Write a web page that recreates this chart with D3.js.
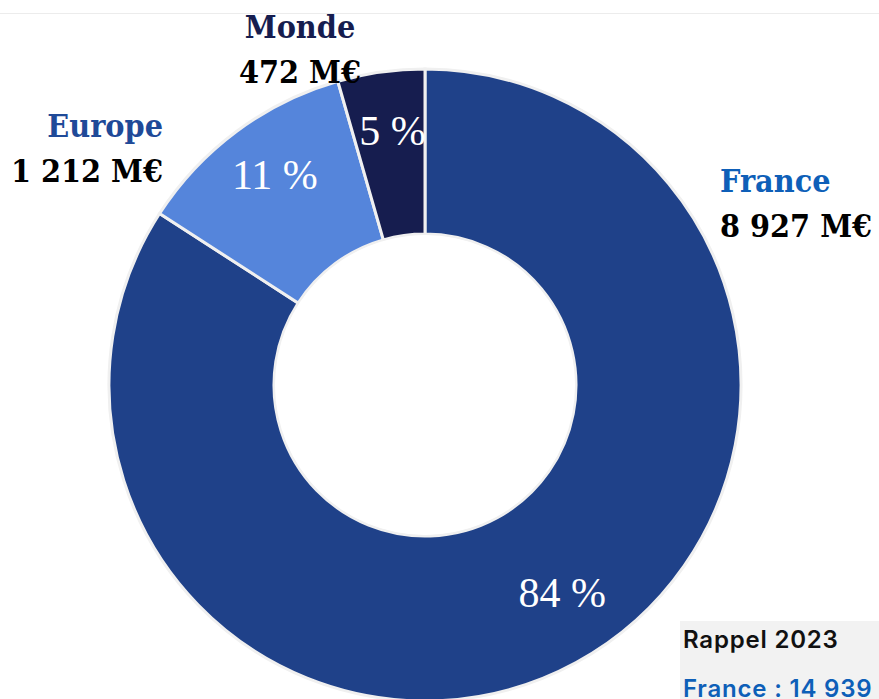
<!DOCTYPE html>
<html>
<head>
<meta charset="utf-8">
<script src="https://cdn.jsdelivr.net/npm/d3@7"></script>
<style>
  html, body { margin: 0; padding: 0; background: #ffffff; }
  svg { display: block; }
</style>
</head>
<body>
<svg id="chart" width="879" height="699"></svg>
<script>
// Répartition géographique (M€)
const regions = ["France", "Europe", "Monde"];
const amounts = [8927, 1212, 472];
const amountLabels = ["8 927 M€", "1 212 M€", "472 M€"];
const shareLabels = ["84 %", "11 %", "5 %"];
const sliceColors = ["#1f4189", "#5585db", "#161d4f"];
const nameColors = ["#0e5fb8", "#1f4a98", "#161d4f"];
const reminderTitle = "Rappel 2023";
const reminderLine = "France : 14 939";

const svg = d3.select("#chart");
const W = 879, H = 699;
const cx = 425, cy = 385;
const rOuter = 316, rInner = 151;

// fine rule along the top
svg.append("line")
  .attr("x1", 0).attr("x2", W)
  .attr("y1", 13.5).attr("y2", 13.5)
  .attr("stroke", "#ececec").attr("stroke-width", 1);

const data = regions.map((r, i) => ({
  region: r, value: amounts[i], amount: amountLabels[i],
  share: shareLabels[i], color: sliceColors[i], nameColor: nameColors[i]
}));

const pie = d3.pie().value(d => d.value).sort(null)
  .startAngle(0).endAngle(2 * Math.PI);
const arcs = pie(data);

const arc = d3.arc().innerRadius(rInner).outerRadius(rOuter);
const g = svg.append("g").attr("transform", `translate(${cx},${cy})`);

g.selectAll("path.slice")
  .data(arcs)
  .join("path")
  .attr("class", "slice")
  .attr("d", arc)
  .attr("fill", d => d.data.color)
  .attr("stroke", "#f0f0f0")
  .attr("stroke-width", 3)
  .attr("stroke-linejoin", "miter");

// inner hole drawn clean (no outline)
g.append("circle").attr("r", rInner - 1).attr("fill", "#ffffff");

// percentage labels inside the ring
const labelArc = d3.arc().innerRadius(262).outerRadius(262);
const shareNudge = { France: [12, -22], Europe: [6, 0], Monde: [4, 5] };
g.selectAll("text.share")
  .data(arcs)
  .join("text")
  .attr("class", "share")
  .attr("x", d => labelArc.centroid(d)[0] + shareNudge[d.data.region][0])
  .attr("y", d => labelArc.centroid(d)[1] + shareNudge[d.data.region][1])
  .attr("text-anchor", "middle")
  .attr("dominant-baseline", "central")
  .attr("font-family", "'Liberation Serif', 'Times New Roman', serif")
  .attr("font-size", 42)
  .attr("fill", "#ffffff")
  .text(d => d.data.share);

// outside category labels
const outside = {
  France: { x: 720, y: 192, anchor: "start" },
  Europe: { x: 163, y: 137, anchor: "end" },
  Monde: { x: 300, y: 38, anchor: "middle" }
};
const serif = "'DejaVu Serif Condensed', 'DejaVu Serif', serif";
data.forEach(d => {
  const p = outside[d.region];
  svg.append("text")
    .attr("x", p.x).attr("y", p.y)
    .attr("text-anchor", p.anchor)
    .attr("font-family", serif)
    .attr("font-weight", "bold")
    .attr("font-size", 32)
    .attr("fill", d.nameColor)
    .text(d.region);
  svg.append("text")
    .attr("x", p.x).attr("y", p.y + 45)
    .attr("text-anchor", p.anchor)
    .attr("font-family", serif)
    .attr("font-weight", "bold")
    .attr("font-size", 32)
    .attr("fill", "#000000")
    .text(d.amount);
});

// reminder box, bottom right
svg.append("rect")
  .attr("x", 680).attr("y", 621)
  .attr("width", W - 680).attr("height", H - 621)
  .attr("fill", "#f2f2f2");
const sans = "Inter, 'Noto Sans', sans-serif";
svg.append("text")
  .attr("x", 683).attr("y", 648)
  .attr("font-family", sans)
  .attr("font-weight", 600)
  .attr("font-size", 24)
  .attr("letter-spacing", 0.8)
  .attr("fill", "#111111")
  .text(reminderTitle);
svg.append("text")
  .attr("x", 683).attr("y", 697)
  .attr("font-family", sans)
  .attr("font-weight", 600)
  .attr("font-size", 24)
  .attr("letter-spacing", 0.8)
  .attr("fill", "#0e5fb8")
  .text(reminderLine);
</script>
</body>
</html>
